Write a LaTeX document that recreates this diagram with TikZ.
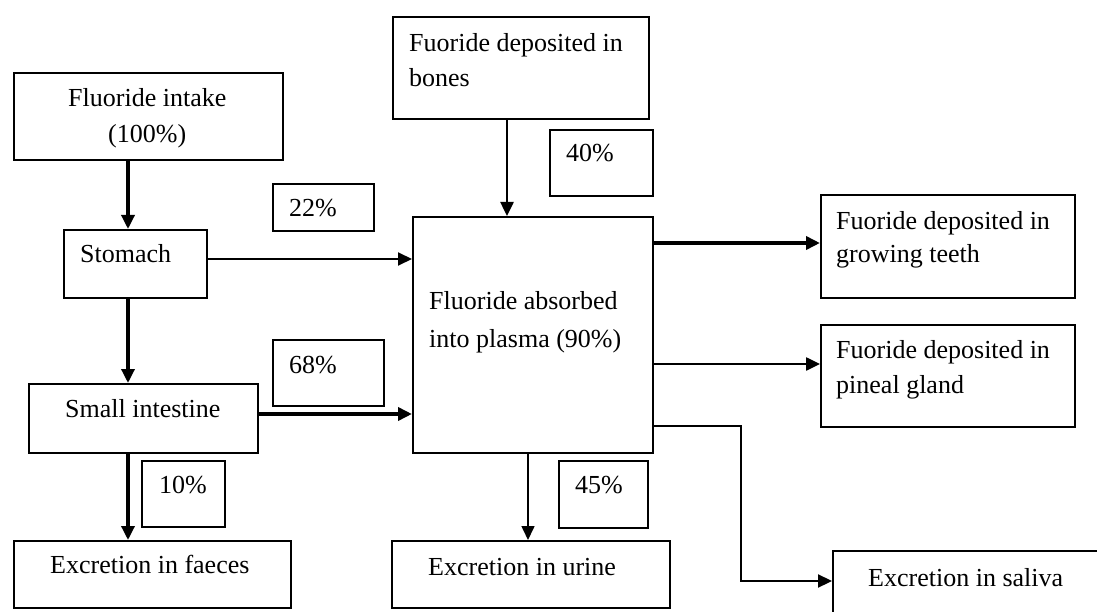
\documentclass[tikz,border=0pt]{standalone}
\usepackage{fontspec}
\setmainfont{Liberation Serif}
\usetikzlibrary{arrows.meta}
\begin{document}
\begin{tikzpicture}[x=1pt,y=-1pt,
  box/.style={draw, line width=2pt, anchor=north west, inner sep=0pt},
  txt/.style={font=\fontsize{26}{37}\selectfont, inner sep=0pt, anchor=base west},
  arr/.style={-{Triangle[length=14pt,width=13pt]}},
]
\useasboundingbox (0,0) rectangle (1097,612);
\fill[white] (0,0) rectangle (1097,612);
\clip (0,0) rectangle (1097,612);

% helper coordinates
\coordinate (ca) at (128,0);
\coordinate (cb) at (507,0);
\coordinate (cu) at (528,0);
\coordinate (xs) at (741,0);
\coordinate (rs) at (0,259);
\coordinate (ri) at (0,414);
\coordinate (rt) at (0,243);
\coordinate (rp) at (0,364);
\coordinate (rsa) at (0,426);
\coordinate (rsb) at (0,581);

% boxes
\node[box, minimum width=269pt, minimum height=87pt] (intake) at (13,72) {};
\node[box, minimum width=143pt, minimum height=68pt] (stomach) at (63,229) {};
\node[box, minimum width=229pt, minimum height=69pt] (small) at (28,383) {};
\node[box, minimum width=277pt, minimum height=67pt] (faeces) at (13,540) {};
\node[box, minimum width=101pt, minimum height=47pt] (p22) at (272,183) {};
\node[box, minimum width=111pt, minimum height=66pt] (p68) at (272,339) {};
\node[box, minimum width=83pt, minimum height=66pt] (p10) at (141,460) {};
\node[box, minimum width=256pt, minimum height=102pt] (bones) at (392,16) {};
\node[box, minimum width=103pt, minimum height=66pt] (p40) at (549,129) {};
\node[box, minimum width=240pt, minimum height=236pt] (plasma) at (412,216) {};
\node[box, minimum width=89pt, minimum height=67pt] (p45) at (558,460) {};
\node[box, minimum width=278pt, minimum height=67pt] (urine) at (391,540) {};
\node[box, minimum width=254pt, minimum height=103pt] (teeth) at (820,194) {};
\node[box, minimum width=254pt, minimum height=102pt] (pineal) at (820,324) {};
\node[box, minimum width=300pt, minimum height=100pt] (saliva) at (832,550) {};

% texts
\node[txt] (t1) at (68,107) {Fluoride intake};
\node[txt] (t2) at (108,143) {(100\%)};
\node[txt] (t3) at (80,263) {Stomach};
\node[txt] (t4) at (289,217) {22\%};
\node[txt] (t5) at (409,52) {Fuoride deposited in};
\node[txt] (t6) at (409,87) {bones};
\node[txt] (t7) at (566,162) {40\%};
\node[txt] (t8) at (429,309) {Fluoride absorbed};
\node[txt] (t9) at (429,347) {into plasma (90\%)};
\node[txt] (t10) at (836,230) {Fuoride deposited in};
\node[txt] (t11) at (836,263) {growing teeth};
\node[txt] (t12) at (836,358) {Fuoride deposited in};
\node[txt] (t13) at (836,393) {pineal gland};
\node[txt] (t14) at (289,373) {68\%};
\node[txt] (t15) at (65,417) {Small intestine};
\node[txt] (t16) at (159,493) {10\%};
\node[txt] (t17) at (50,573) {Excretion in faeces};
\node[txt] (t18) at (575,493) {45\%};
\node[txt] (t19) at (428,575) {Excretion in urine};
\node[txt] (t20) at (868,586) {Excretion in saliva};

% connectors
\draw[arr, line width=3.3pt] (intake.south -| ca) -- (stomach.north -| ca);
\draw[arr, line width=3.3pt] (stomach.south -| ca) -- (small.north -| ca);
\draw[arr, line width=3.3pt] (small.south -| ca) -- (faeces.north -| ca);
\draw[arr, line width=2pt] (stomach.east |- rs) -- (plasma.west |- rs);
\draw[arr, line width=4pt] (small.east |- ri) -- (plasma.west |- ri);
\draw[arr, line width=2.5pt] (bones.south -| cb) -- (plasma.north -| cb);
\draw[arr, line width=1.6pt] (plasma.south -| cu) -- (urine.north -| cu);
\draw[arr, line width=3.5pt] (plasma.east |- rt) -- (teeth.west |- rt);
\draw[arr, line width=2.5pt] (plasma.east |- rp) -- (pineal.west |- rp);
\draw[arr, line width=2.2pt] (plasma.east |- rsa) -| (xs |- rsb) -- (saliva.west |- rsb);
\end{tikzpicture}
\end{document}
